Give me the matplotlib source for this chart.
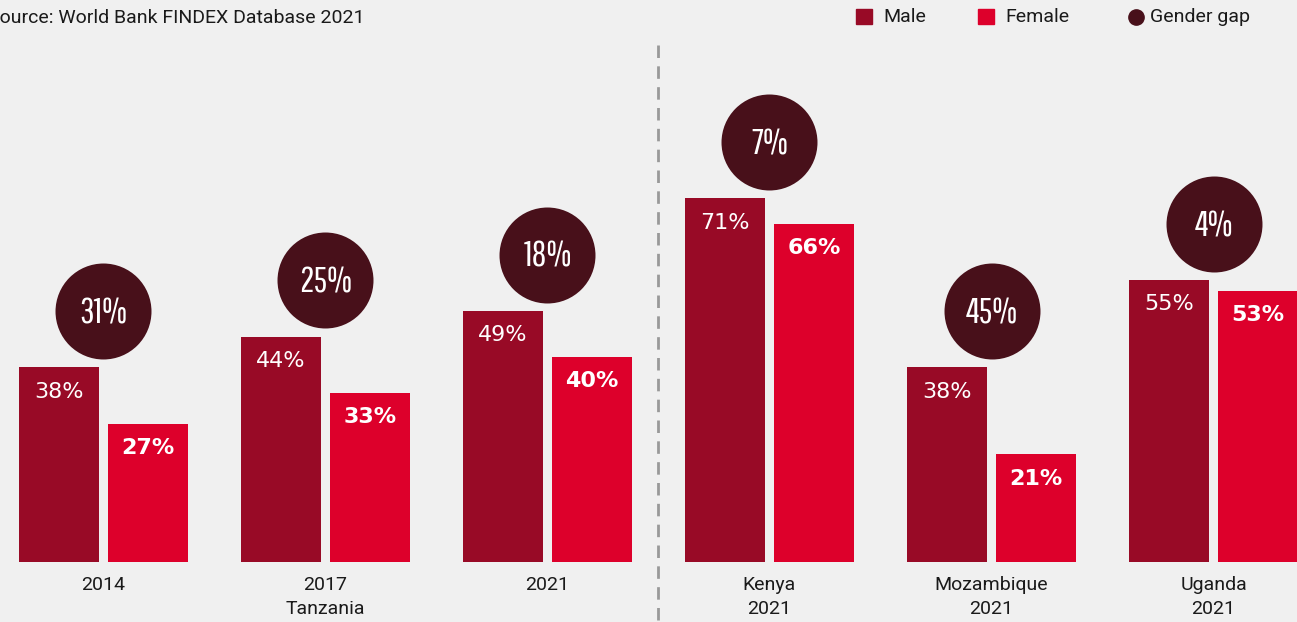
import matplotlib
matplotlib.use("Agg")
import matplotlib.pyplot as plt
from matplotlib.patches import Rectangle

groups = ["2014", "2017\nTanzania", "2021", "Kenya\n2021", "Mozambique\n2021", "Uganda\n2021"]
male = [38, 44, 49, 71, 38, 55]
female = [27, 33, 40, 66, 21, 53]
gap = [31, 25, 18, 7, 45, 4]

C_MALE = "#980A26"
C_FEMALE = "#DD002B"
C_GAP = "#48101A"
BG = "#F0F0F0"
TXT = "#1a1a1a"
LABEL_FONT = ["Roboto", "DejaVu Sans"]
BUBBLE_FONT = ["Pathway Gothic One", "Oswald", "DejaVu Sans"]

W, H = 1297, 622
fig = plt.figure(figsize=(W / 100, H / 100), dpi=100, facecolor=BG)
ax = fig.add_axes([0, 0, 1, 1], facecolor=BG)
ax.set_xlim(-0.466, 5.376)
ax.set_ylim(-60 / 5.12, 562 / 5.12)
ax.axis("off")

x = list(range(len(groups)))
bw = 0.36
off = 0.2
ax.bar([i - off for i in x], male, width=bw, color=C_MALE, zorder=2)
ax.bar([i + off for i in x], female, width=bw, color=C_FEMALE, zorder=2)

for i in x:
    ax.text(i - off, male[i] - 4.7, f"{male[i]}%", ha="center", va="center",
            color="white", fontsize=16, fontfamily="DejaVu Sans", zorder=3)
    ax.text(i + off, female[i] - 4.7, f"{female[i]}%", ha="center", va="center",
            color="white", fontsize=16, fontweight="bold", fontfamily="DejaVu Sans", zorder=3)

bub_y = [m + 11 for m in male]
ax.scatter(x, bub_y, s=4776, color=C_GAP, zorder=3, linewidths=0)
for i in x:
    ax.text(i, bub_y[i] - 0.3, f"{gap[i]}%", ha="center", va="center", color="white",
            fontsize=26, fontfamily=BUBBLE_FONT, zorder=4)

# group labels below the baseline
for i in x:
    ax.text(i, -2.7, groups[i], ha="center", va="top", fontsize=14,
            fontfamily=LABEL_FONT, color=TXT, linespacing=1.42)

# dashed divider
ax.plot([2.5, 2.5], [101, -12], color="#999999", lw=2, ls=(0, (4.5, 3)), zorder=1,
        clip_on=False)

# source note
fig.text(-12 / W, 1 - 18 / H, "Source: World Bank FINDEX Database 2021", ha="left",
         va="center", fontsize=14, fontfamily=LABEL_FONT, color=TXT)

# legend
def sq(px, color):
    fig.add_artist(Rectangle((px / W, 1 - 24 / H), 16 / W, 15 / H, color=color,
                             transform=fig.transFigure))

sq(856, C_MALE)
fig.text(883 / W, 1 - 17.5 / H, "Male", ha="left", va="center", fontsize=14,
         fontfamily=LABEL_FONT, color=TXT)
sq(978, C_FEMALE)
fig.text(1005 / W, 1 - 17.5 / H, "Female", ha="left", va="center", fontsize=14,
         fontfamily=LABEL_FONT, color=TXT)
fig.add_artist(plt.Line2D([1135.5 / W], [1 - 16.5 / H], marker="o", markersize=11,
                          color=C_GAP, transform=fig.transFigure, linestyle="none"))
fig.text(1150 / W, 1 - 17.5 / H, "Gender gap", ha="left", va="center", fontsize=14,
         fontfamily=LABEL_FONT, color=TXT)

fig.savefig("out.png", dpi=100, facecolor=BG)
